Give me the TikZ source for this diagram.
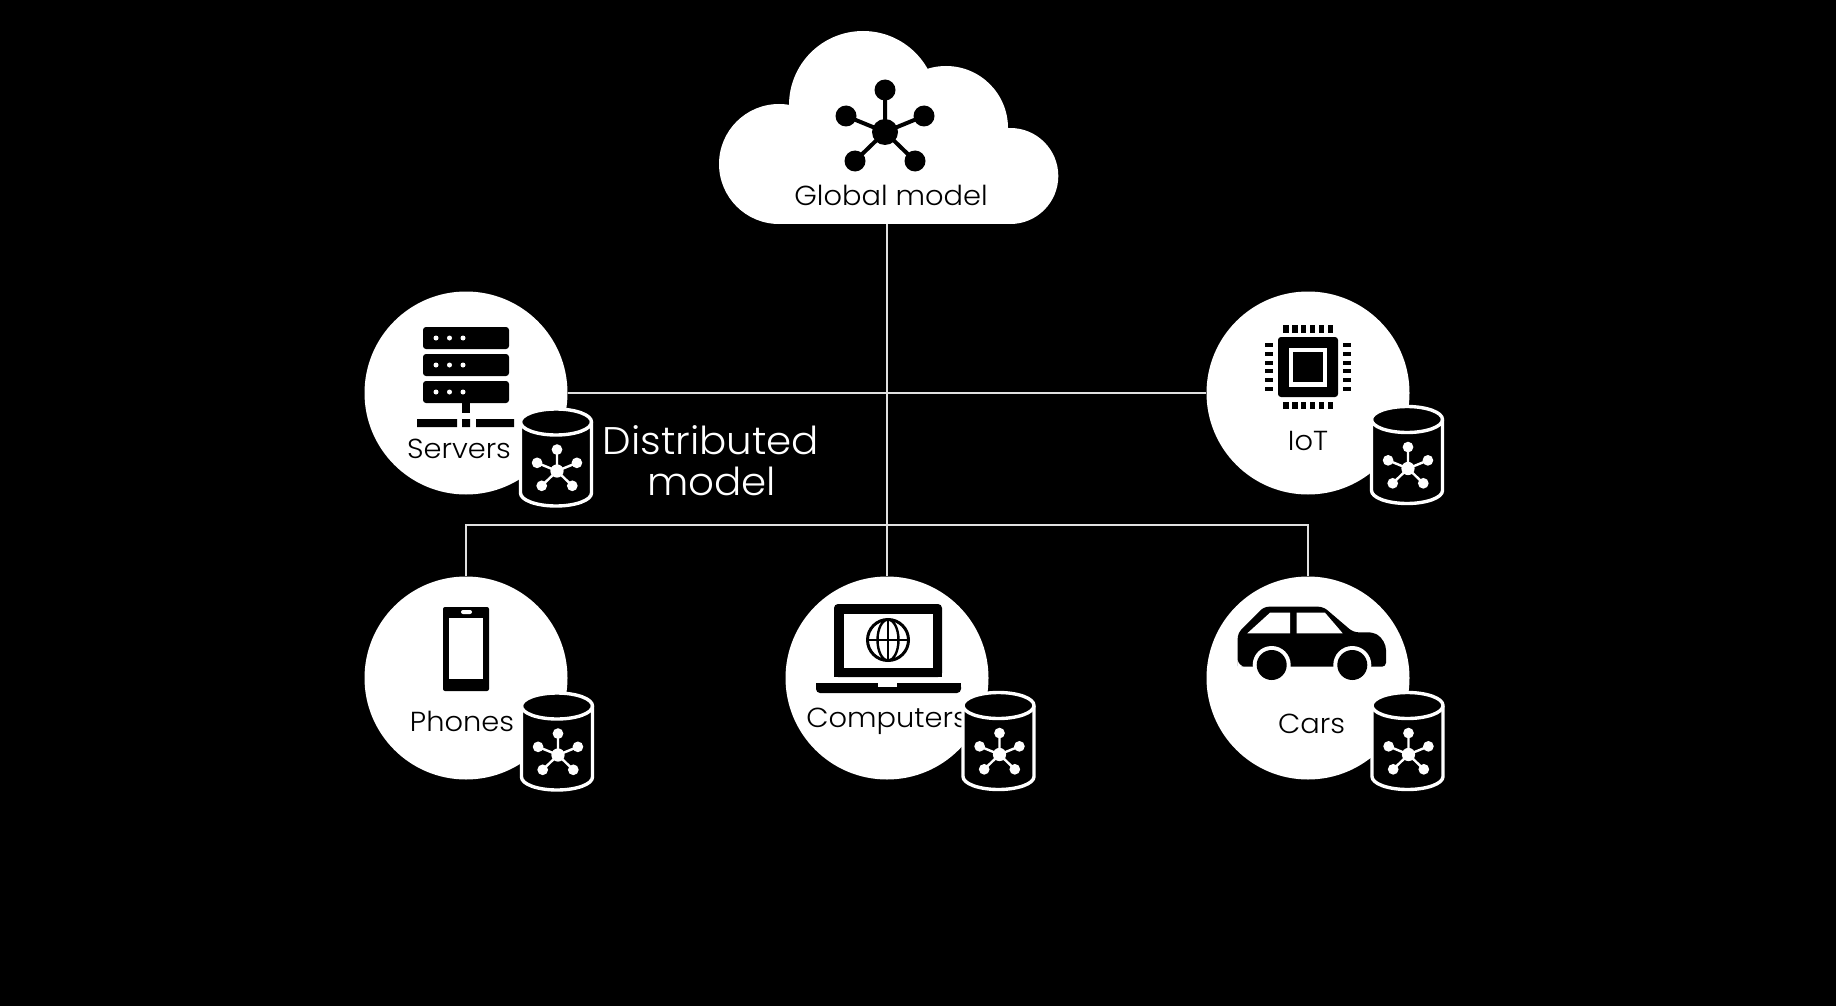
\documentclass[tikz,border=0pt]{standalone}
\usepackage{fontspec}
\setmainfont{Poppins}[UprightFont=* Light,FakeStretch=1.05]
\tikzset{
  x=1pt,y=-1pt,
  wire/.style={draw=white!88!black,line width=1.2pt},
  disc/.style={circle,fill=white,draw=none,minimum size=203pt,inner sep=0pt},
  lab/.style={anchor=base,text=black,inner sep=0pt,font=\fontsize{27.5}{27.5}\selectfont},
  bigtext/.style={anchor=base,text=white,inner sep=0pt,font=\fontsize{38.5}{38.5}\selectfont},
  pics/hub/.style args={#1/#2}{code={
    \path[draw=#1,fill=#1,line width=#2]
      (0,0)--(0,-42) (0,0)--(-39,-16) (0,0)--(39,-16) (0,0)--(-30,29) (0,0)--(30,29);
    \fill[#1] (0,0) circle[radius=13] (0,-42) circle[radius=10.5] (-39,-16) circle[radius=10.5]
      (39,-16) circle[radius=10.5] (-30,29) circle[radius=10.5] (30,29) circle[radius=10.5];
  }},
  pics/store/.style={code={
    \path[fill=black,draw=white,line width=3.4pt,line join=round]
      (-35.5,-35.5) arc[start angle=180,end angle=360,x radius=35.5,y radius=13]
      -- (35.5,35.5) arc[start angle=0,end angle=180,x radius=35.5,y radius=13] -- cycle;
    \draw[white,line width=3.4pt] (-35.5,-35.5) arc[start angle=180,end angle=0,x radius=35.5,y radius=13];
    \pic[scale=0.51] at (1,13.5) {hub={white/2.4pt}};
  }},
}
\begin{document}
\begin{tikzpicture}
\useasboundingbox (0,0) rectangle (1836,1006);
\fill[black] (0,0) rectangle (1836,1006);

% cloud
\fill[white] (779,164) circle[radius=60] (863,105) circle[radius=74]
  (946,128) circle[radius=62] (1010.3,176) circle[radius=48];
\fill[white] (779,130) rectangle (1010.3,224);
\node[minimum width=340pt,minimum height=193pt,inner sep=0pt] (cloud) at (887,127.5) {};
\pic at (885,132) {hub={black/4pt}};
\node[lab] (globallabel) at (891,205) {Global model};

% discs
\node[disc] (servers) at (466,393) {};
\node[disc] (iot) at (1308,393) {};
\node[disc] (phones) at (466,678) {};
\node[disc] (computers) at (887,678) {};
\node[disc] (cars) at (1308,678) {};

% connectors
\coordinate (junctionL) at (phones |- 0,525);
\coordinate (junctionR) at (cars |- 0,525);
\draw[wire] (cloud.south) -- (computers.north);
\draw[wire] (servers.east) -- (iot.west);
\draw[wire] (phones.north) -- (junctionL) -- (junctionR) -- (cars.north);

% server icon
\fill[black] (423,327) [rounded corners=3pt] rectangle (509,349);
\fill[black] (423,354) [rounded corners=3pt] rectangle (509,376);
\fill[black] (423,381) [rounded corners=3pt] rectangle (509,403);
\foreach \yy in {338,365,392} \foreach \xx in {436,449.5,463}
  \fill[white] (\xx,\yy) circle[radius=2.5];
\fill[black] (462,403) rectangle (470,413);
\fill[black] (417,419) rectangle (457,427) (462,419) rectangle (470,427) (476,419) rectangle (514,427);

% chip icon
\fill[black,rounded corners=3pt] (1278,337) rectangle (1338,397);
\fill[white] (1289,348) rectangle (1327,387);
\fill[black] (1293,352) rectangle (1323,382);
\foreach \xx in {1286,1294.9,1303.8,1312.6,1321.5,1330.4} {
  \fill[black] (\xx-2.6,325) rectangle (\xx+2.6,333);
  \fill[black] (\xx-2.6,402) rectangle (\xx+2.6,409);
}
\foreach \yy in {345,354,363,371,380,389} {
  \fill[black] (1265,\yy-2.3) rectangle (1273,\yy+2.3);
  \fill[black] (1343,\yy-2.3) rectangle (1351,\yy+2.3);
}

% phone icon
\fill[black,rounded corners=2pt] (443,607) rectangle (489,691);
\fill[white] (449,618) rectangle (483,679);
\fill[white,rounded corners=2pt] (461,610) rectangle (472,614);

% laptop icon
\fill[black,rounded corners=4pt] (834,677) -- (834,604) -- (942,604) -- (942,677) -- cycle;
\fill[black] (834,665) rectangle (942,677);
\fill[white] (844,614) rectangle (933,668);
\draw[black,line width=3pt] (888,640) circle[radius=20.5];
\draw[black,line width=2.4pt] (888,640) ellipse[x radius=10.5,y radius=20.5];
\draw[black,line width=2.4pt] (888,620) -- (888,660) (868,640) -- (908,640);
\fill[black,rounded corners=4pt] (816,683) -- (961,683) -- (961,693) -- (816,693) -- cycle;
\fill[black] (816,683) rectangle (961,688);
\fill[white] (878,683) rectangle (897,687);

% car icon
\fill[black,rounded corners=5pt] (1237.7,658) -- (1237.7,633.3) -- (1264,606.7)
  -- (1323.3,606.7) -- (1353.3,632.3) -- (1373.3,632.3) [rounded corners=10pt] -- (1386,640)
  [rounded corners=4pt] -- (1386,666.7) -- (1245,666.7) [rounded corners=8pt] -- (1237.7,666.7) -- cycle;
\fill[white] (1247.3,633.3) -- (1270,612.7) -- (1290,612.7) -- (1290,633.3) -- cycle;
\fill[white] (1296.7,612.7) -- (1325,612.7) -- (1342.7,633.3) -- (1296.7,633.3) -- cycle;
\fill[white] (1271.7,665) circle[radius=19] (1352.3,665) circle[radius=19];
\fill[black] (1271.7,665) circle[radius=15] (1352.3,665) circle[radius=15];

% labels
\node[lab] (serverslabel) at (459,458) {Servers};
\node[lab] (iotlabel) at (1308,450) {IoT};
\node[lab] (phoneslabel) at (462,731) {Phones};
\node[lab] (computerslabel) at (887,727) {Computers};
\node[lab] (carslabel) at (1311.5,733) {Cars};
\node[bigtext] (dist1) at (711,454) {Distributed};
\node[bigtext] (dist2) at (711.5,495) {model};

% cylinders
\pic at (556,457.5) {store};
\pic at (1407,455) {store};
\pic at (557,741.5) {store};
\pic at (998.5,741) {store};
\pic at (1407.5,741) {store};
\end{tikzpicture}
\end{document}
